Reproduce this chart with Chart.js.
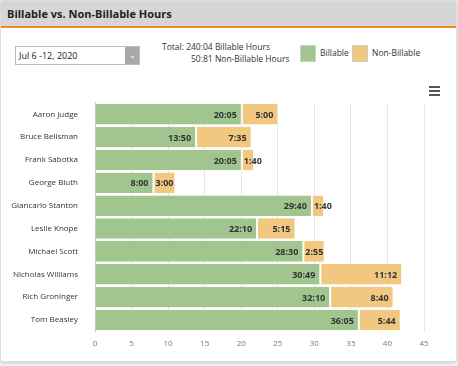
<!DOCTYPE html>
<html>
<head>
<meta charset="utf-8">
<script src="https://cdn.jsdelivr.net/npm/chart.js@4.4.0/dist/chart.umd.min.js"></script>
<style>
  html, body { margin: 0; padding: 0; background: #f0f0f0; font-family: "Open Sans", sans-serif; }
  .card { position: absolute; left: 0; top: 0; width: 455px; height: 360px; background: #fff;
          border: 1px solid #ddd; border-radius: 3px; box-shadow: 0 1px 3px rgba(0,0,0,0.15); overflow: hidden; }
  .head { height: 25px; background: #d6d6d6; border-bottom: 2px solid #f08a24; }
  .head h1 { margin: 0; font-size: 11px; font-weight: bold; color: #222; line-height: 26px; padding-left: 6px; }
  .select { position: absolute; left: 14px; top: 45px; width: 125px; height: 19px; border: 1px solid #bbb; font-size: 9px;
            color: #222; line-height: 18px; padding-left: 3px; box-sizing: border-box; }
  .select .arr { position: absolute; right: 0; top: 0; width: 14px; height: 17px; background: #a9a9a9; color: #fff;
                 font-size: 8px; text-align: center; line-height: 15px; }
  .tot { position: absolute; font-size: 8.5px; color: #333; white-space: nowrap; }
  .legend { position: absolute; font-size: 8.5px; color: #333; }
  .box { position: absolute; width: 16px; height: 17px; box-sizing: border-box; }
  .menu { position: absolute; left: 428px; top: 85px; width: 11px; }
  .menu div { height: 2px; background: #555; margin-bottom: 2px; }
  canvas { position: absolute; left: 0; top: 88px; }
</style>
</head>
<body>
<div class="card">
  <div class="head"><h1>Billable vs. Non-Billable Hours</h1></div>
  <div class="select">Jul 6 -12, 2020<div class="arr">&#8964;</div></div>
  <div class="tot" style="left:161px;top:40px;">Total: 240:04 Billable Hours</div>
  <div class="tot" style="left:190px;top:52px;">50:81 Non-Billable Hours</div>
  <div class="box" style="left:299px;top:44px;background:#a0c58f;border:1px solid #c8d8c0;"></div>
  <div class="legend" style="left:319px;top:46px;">Billable</div>
  <div class="box" style="left:351px;top:44px;background:#f2c77f;border:1px solid #ccc;"></div>
  <div class="legend" style="left:371px;top:46px;">Non-Billable</div>
  <div class="menu"><div></div><div></div><div></div></div>
  <canvas id="chart" width="450" height="268"></canvas>
</div>
<script>
const people = ['Aaron Judge', 'Bruce Bellsman', 'Frank Sabotka', 'George Bluth', 'Giancarlo Stanton',
  'Leslie Knope', 'Michael Scott', 'Nicholas Williams', 'Rich Groninger', 'Tom Beasley'];
const billable = ['20:05', '13:50', '20:05', '8:00', '29:40', '22:10', '28:30', '30:49', '32:10', '36:05'];
const nonBillable = ['5:00', '7:35', '1:40', '3:00', '1:40', '5:15', '2:55', '11:12', '8:40', '5:44'];
const xTicks = [0, 5, 10, 15, 20, 25, 30, 35, 40, 45];

const toHours = (s) => { const [h, m] = s.split(':').map(Number); return h + m / 60; };

// draw the h:mm text at the right end of every bar (left side if it doesn't fit)
const barText = {
  id: 'barText',
  afterDatasetsDraw(chart) {
    const ctx = chart.ctx;
    ctx.save();
    ctx.font = 'bold 9px "Open Sans"';
    ctx.fillStyle = '#333';
    ctx.textBaseline = 'middle';
    chart.data.datasets.forEach((ds, i) => {
      chart.getDatasetMeta(i).data.forEach((bar, j) => {
        const txt = ds.raw[j];
        const w = ctx.measureText(txt).width;
        if (w + 8 > bar.x - bar.base) {
          ctx.textAlign = 'left';
          ctx.fillText(txt, bar.base + 2, bar.y + 1);
        } else {
          ctx.textAlign = 'right';
          ctx.fillText(txt, bar.x - 5, bar.y + 1);
        }
      });
    });
    ctx.restore();
  }
};

new Chart(document.getElementById('chart'), {
  type: 'bar',
  data: {
    labels: people,
    datasets: [
      { label: 'Billable', raw: billable, data: billable.map(toHours),
        backgroundColor: '#a0c58f', borderColor: '#fff', borderWidth: { right: 1 }, borderSkipped: false },
      { label: 'Non-Billable', raw: nonBillable, data: nonBillable.map(toHours),
        backgroundColor: '#f2c77f', borderColor: '#fff', borderWidth: { right: 1, left: 1 }, borderSkipped: false }
    ]
  },
  options: {
    indexAxis: 'y',
    responsive: false,
    animation: false,
    layout: { padding: { left: 0, right: 27, top: 6 } },
    plugins: { legend: { display: false }, tooltip: { enabled: false } },
    barPercentage: 0.9,
    categoryPercentage: 1,
    scales: {
      x: {
        stacked: true, min: 0, max: 45,
        afterBuildTicks: (axis) => { axis.ticks = xTicks.map(v => ({ value: v })); },
        grid: { color: '#e6e6e6', drawTicks: false },
        border: { display: false },
        ticks: { color: '#777', font: { size: 8, family: 'Open Sans' }, padding: 8 }
      },
      y: {
        stacked: true,
        afterFit: (axis) => { axis.width = 94; },
        grid: { display: false },
        border: { color: '#c5cbe0', width: 1 },
        ticks: { color: '#333', font: { size: 8, family: 'Open Sans' }, padding: 9 }
      }
    }
  },
  plugins: [barText]
});
</script>
</body>
</html>
